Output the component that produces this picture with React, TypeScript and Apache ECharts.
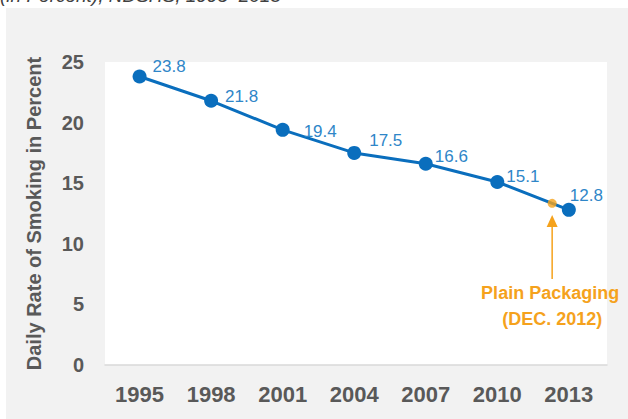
import React, { useEffect, useRef } from "react";
import * as echarts from "echarts";

const years = [1995, 1998, 2001, 2004, 2007, 2010, 2013];
const rates = [23.8, 21.8, 19.4, 17.5, 16.6, 15.1, 12.8];
const xTickLabels = [1995, 1998, 2001, 2004, 2007, 2010, 2013];
const eventPoint = [2012.3, 13.34];
const eventLines = ["Plain Packaging", "(DEC. 2012)"];
const subtitle = "(in Percent), NDSHS, 1995–2013";
const yAxisTitle = "Daily Rate of Smoking in Percent";

// label offsets (style only)
const labelOffsets: [number, number][] = [
  [4, -10], [5, -4], [12, 2], [6, -12], [0, -7], [0, -5], [-8, -14],
];

const SANS = "'Liberation Sans', Arial, sans-serif";
const BLUE = "#0A6EBD";
const LBLUE = "#2F86C8";
const ORANGE = "#F5A21C";
const GRAY = "#595959";

export default function App() {
  const ref = useRef<HTMLDivElement>(null);
  useEffect(() => {
    if (!ref.current) return;
    const chart = echarts.init(ref.current, null, { renderer: "svg" });
    const option: any = {
      animation: false,
      backgroundColor: "#ffffff",
      grid: {
        left: 105, right: 21, top: 62, bottom: 54,
        show: true, backgroundColor: "#ffffff", borderWidth: 0,
      },
      xAxis: {
        type: "value",
        min: 1993.55,
        max: 2014.6,
        splitLine: { show: false },
        axisLine: { show: true, lineStyle: { color: "#d9d9d9", width: 1.5 } },
        axisTick: { show: false },
        axisLabel: {
          customValues: xTickLabels,
          formatter: (v: number) => String(Math.round(v)),
          color: GRAY,
          fontFamily: SANS,
          fontWeight: "bold",
          fontSize: 22,
          margin: 18,
        },
      },
      yAxis: {
        type: "value",
        min: 0,
        max: 25,
        interval: 5,
        splitLine: { show: false },
        axisLine: { show: false },
        axisTick: { show: false },
        axisLabel: {
          color: GRAY,
          fontFamily: SANS,
          fontWeight: "bold",
          fontSize: 20,
          margin: 21,
        },
        name: yAxisTitle,
        nameLocation: "middle",
        nameGap: 61,
        nameRotate: 90,
        nameTextStyle: {
          color: GRAY,
          fontFamily: SANS,
          fontWeight: "bold",
          fontSize: 20,
        },
      },
      series: [
        {
          type: "line",
          data: years.map((y, i) => ({
            value: [y, rates[i]],
            label: { offset: labelOffsets[i] },
          })),
          lineStyle: { color: BLUE, width: 3 },
          itemStyle: { color: BLUE },
          symbol: "circle",
          symbolSize: 14,
          label: {
            show: true,
            position: "right",
            distance: 2,
            color: LBLUE,
            fontFamily: SANS,
            fontSize: 17,
            formatter: (p: any) => p.value[1].toFixed(1),
          },
          z: 3,
        },
        {
          type: "scatter",
          data: [eventPoint],
          symbolSize: 9,
          itemStyle: { color: ORANGE },
          z: 5,
        },
      ],
    };
    chart.setOption(option);

    const tip = chart.convertToPixel({ gridIndex: 0 }, [eventPoint[0], 12.38]) as number[];
    const bottom = chart.convertToPixel({ gridIndex: 0 }, [eventPoint[0], 7.1]) as number[];
    const x = tip[0];
    chart.setOption({
      graphic: [
        {
          type: "rect",
          shape: { x: 6, y: 8, width: 640, height: 430 },
          style: { fill: "#f2f2f2" },
          z: -10,
          silent: true,
        },
        {
          type: "text",
          x: 0,
          y: 5,
          style: {
            text: subtitle,
            fill: "#404040",
            font: `italic 19px ${SANS}`,
            textAlign: "left",
            textVerticalAlign: "bottom",
          },
        },
        {
          type: "polygon",
          shape: { points: [[x, tip[1]], [x - 5.5, tip[1] + 12], [x + 5.5, tip[1] + 12]] },
          style: { fill: ORANGE },
          z: 10,
        },
        {
          type: "line",
          shape: { x1: x, y1: tip[1] + 10, x2: x, y2: bottom[1] },
          style: { stroke: ORANGE, lineWidth: 1.5 },
          z: 10,
        },
        {
          type: "text",
          x: x - 2,
          y: bottom[1] + 14,
          style: {
            text: eventLines[0],
            fill: ORANGE,
            font: `bold 18px ${SANS}`,
            textAlign: "center",
            textVerticalAlign: "middle",
          },
          z: 10,
        },
        {
          type: "text",
          x: x,
          y: bottom[1] + 40,
          style: {
            text: eventLines[1],
            fill: ORANGE,
            font: `bold 18px ${SANS}`,
            textAlign: "center",
            textVerticalAlign: "middle",
          },
          z: 10,
        },
      ],
    });
    return () => chart.dispose();
  }, []);
  return (
    <div
      ref={ref}
      style={{ position: "absolute", left: 0, top: 0, width: 628, height: 419 }}
    />
  );
}
